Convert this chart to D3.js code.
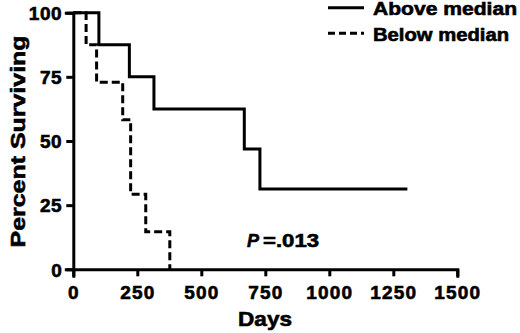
<!DOCTYPE html>
<html>
<head>
<meta charset="utf-8">
<script src="https://cdn.jsdelivr.net/npm/d3@7"></script>
<style>
  body { margin: 0; background: #fff; }
  text { font-family: "Liberation Sans", Arial, sans-serif; font-weight: bold; fill: #000; stroke: #000; stroke-width: 0.6px; }
</style>
</head>
<body>
<div id="chart"></div>
<script>
// survival data
const aboveDays = [0, 100, 219, 315, 668, 729, 1305]
const aboveSurv = [100, 87.5, 75, 62.5, 46.875, 31.25, 31.25]
const belowDays = [0, 50, 91, 193, 224, 283, 377]
const belowSurv = [100, 87.5, 72.9, 58.3, 29.2, 14.6, 0]

const xTicks = [0, 250, 500, 750, 1000, 1250, 1500]
const yTicks = [0, 25, 50, 75, 100]
const seriesNames = ["Above median", "Below median"]

const width = 520, height = 333
const svg = d3.select("#chart").append("svg")
  .attr("width", width).attr("height", height)

const x = d3.scaleLinear().domain([0, 1500]).range([73.3, 457.3])
const y = d3.scaleLinear().domain([0, 100]).range([269.3, 12.7])

// axes
const gx = svg.append("g").attr("transform", `translate(0,${y(0)})`)
  .call(d3.axisBottom(x).tickValues(xTicks).tickSizeOuter(0).tickSize(7).tickFormat(d3.format("d")))
const gy = svg.append("g").attr("transform", `translate(${x(0)},0)`)
  .call(d3.axisLeft(y).tickValues(yTicks).tickSizeOuter(0).tickSize(7))

for (const g of [gx, gy]) {
  g.select(".domain").attr("stroke", "#000").attr("stroke-width", 3).attr("stroke-linecap", "square")
  g.selectAll(".tick line").attr("stroke", "#000").attr("stroke-width", 3)
  g.selectAll(".tick text").attr("font-size", 19).attr("font-family", null).attr("fill", "#000")
}
gx.selectAll(".tick text").attr("y", 29.5).attr("dy", 0).attr("letter-spacing", 1.2)
gy.selectAll(".tick text").attr("x", -11).attr("dy", "0.36em").attr("letter-spacing", 0.6)

// curves
const line = d3.line().x(d => x(d[0])).y(d => y(d[1])).curve(d3.curveStepAfter)

svg.append("path")
  .datum(d3.zip(aboveDays, aboveSurv))
  .attr("d", line)
  .attr("fill", "none").attr("stroke", "#000").attr("stroke-width", 3)

svg.append("path")
  .datum(d3.zip(belowDays, belowSurv))
  .attr("d", line)
  .attr("fill", "none").attr("stroke", "#000").attr("stroke-width", 3)
  .attr("stroke-dasharray", "8,4")

// axis titles
svg.append("text")
  .attr("x", 265).attr("y", 326)
  .attr("text-anchor", "middle").attr("font-size", 21)
  .attr("textLength", 54).attr("lengthAdjust", "spacingAndGlyphs")
  .text("Days")

svg.append("text")
  .attr("transform", "translate(25,141.5) rotate(-90)")
  .attr("text-anchor", "middle").attr("font-size", 21)
  .attr("textLength", 212).attr("lengthAdjust", "spacingAndGlyphs")
  .text("Percent Surviving")

// legend
const legend = svg.append("g")
seriesNames.forEach((name, i) => {
  const ly = 7.8 + i * 25.5
  legend.append("line")
    .attr("x1", 328).attr("x2", 364).attr("y1", ly).attr("y2", ly)
    .attr("stroke", "#000").attr("stroke-width", 3)
    .attr("stroke-dasharray", i === 1 ? "7,4" : null)
  legend.append("text")
    .attr("x", 373).attr("y", ly + 7.2)
    .attr("font-size", 18)
    .attr("textLength", i === 0 ? 144 : 136).attr("lengthAdjust", "spacingAndGlyphs")
    .text(name)
})

// p value
const pt = svg.append("text").attr("x", 247).attr("y", 247).attr("font-size", 18)
pt.append("tspan").attr("font-style", "italic").text("P")
pt.append("tspan").attr("dx", 4).attr("textLength", 56).attr("lengthAdjust", "spacingAndGlyphs").text("=.013")
</script>
</body>
</html>
